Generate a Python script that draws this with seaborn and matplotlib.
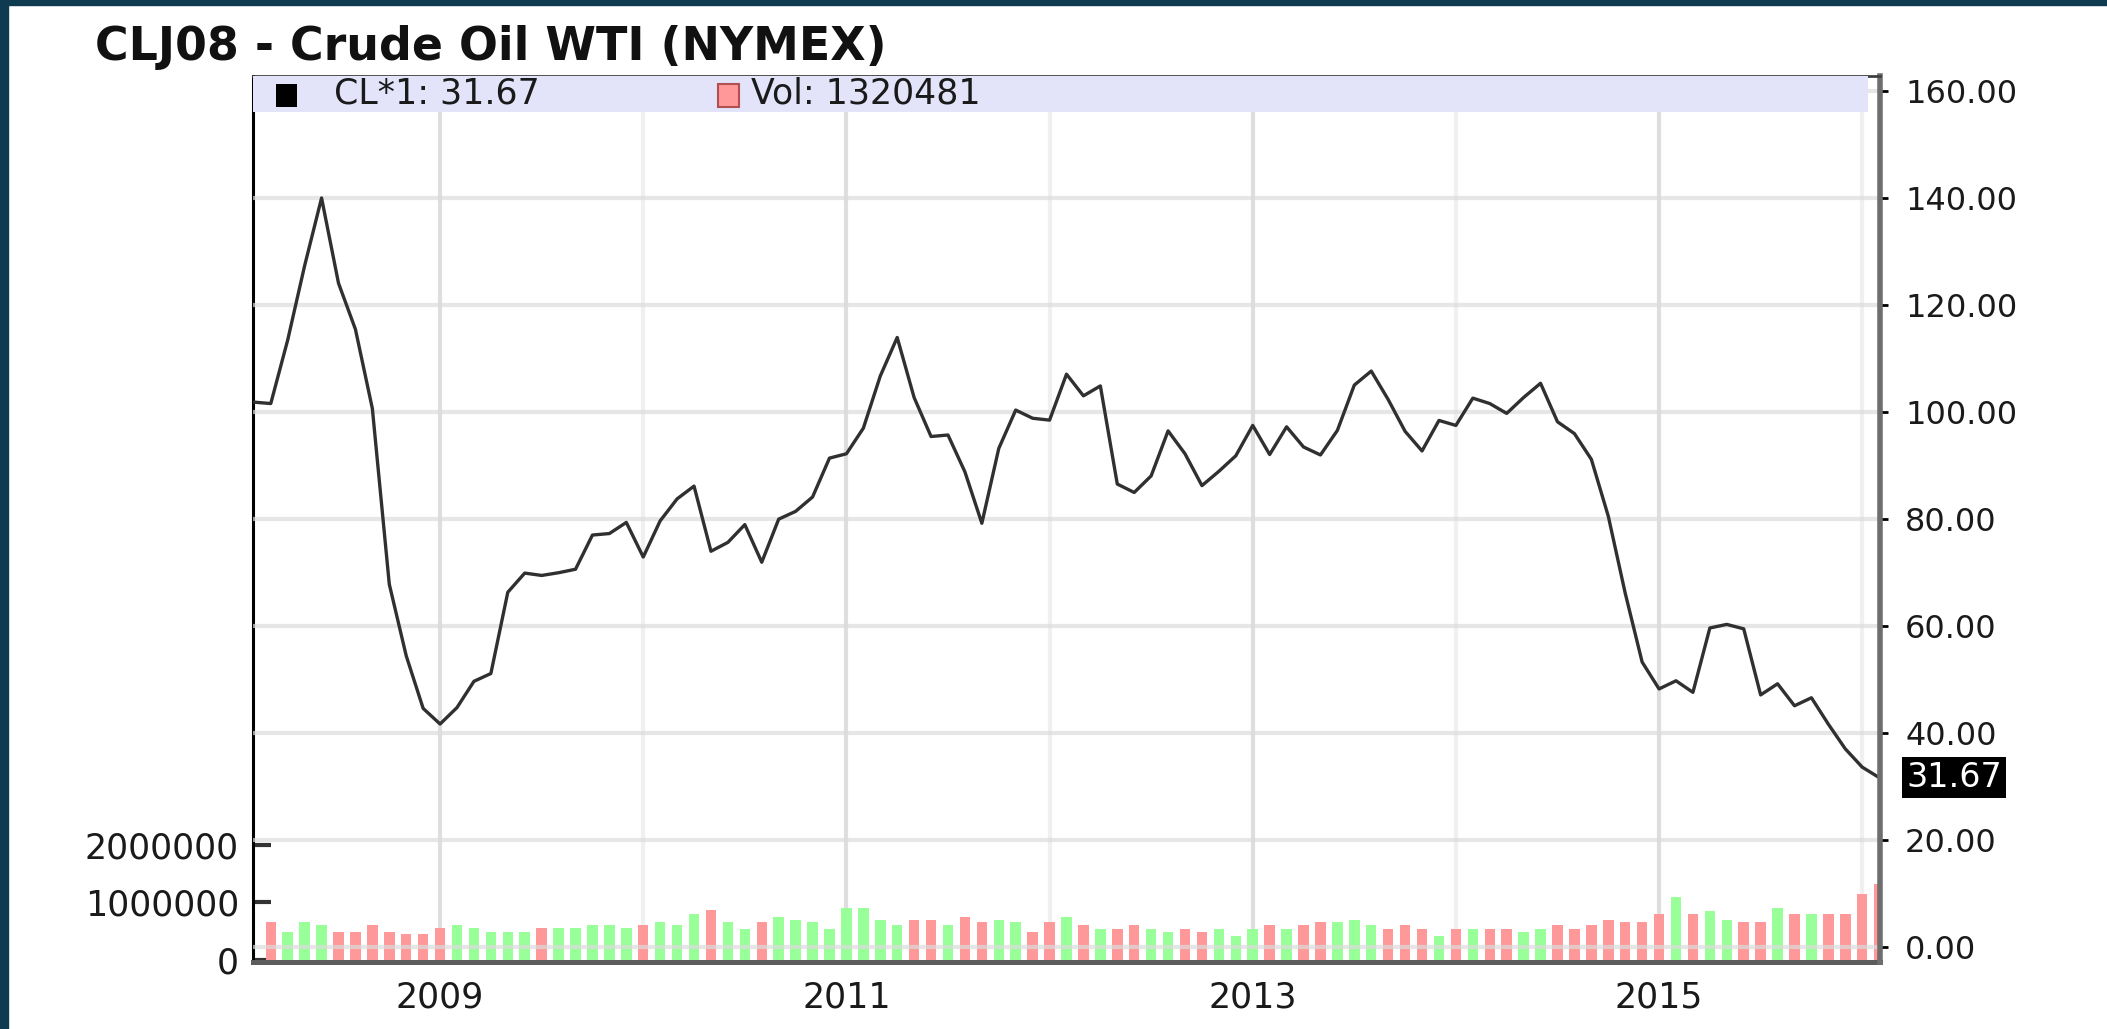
import matplotlib
matplotlib.use('Agg')
import matplotlib.pyplot as plt
from matplotlib.patches import Rectangle
import numpy as np
import pandas as pd
import seaborn as sns


TITLE = "CLJ08 - Crude Oil WTI (NYMEX)"
START_MONTH = "2008-02-01"

# monthly close, CL*1, Feb 2008 -> Feb 2016
price_2008 = [101.84, 101.58, 113.46, 127.35, 140.00, 124.08, 115.46, 100.64, 67.81, 54.43, 44.60]
price_2009 = [41.68, 44.76, 49.66, 51.12, 66.31, 69.89, 69.45, 69.96, 70.61, 77.00, 77.28, 79.36]
price_2010 = [72.89, 79.66, 83.76, 86.15, 73.97, 75.63, 78.95, 71.92, 79.97, 81.43, 84.11, 91.38]
price_2011 = [92.19, 96.97, 106.72, 113.93, 102.70, 95.42, 95.70, 88.81, 79.20, 93.19, 100.36, 98.83]
price_2012 = [98.48, 107.07, 103.02, 104.87, 86.53, 84.96, 88.06, 96.47, 92.19, 86.24, 88.91, 91.82]
price_2013 = [97.49, 92.05, 97.23, 93.46, 91.97, 96.56, 105.03, 107.65, 102.33, 96.38, 92.72, 98.42]
price_2014 = [97.49, 102.59, 101.58, 99.74, 102.71, 105.37, 98.17, 95.96, 91.16, 80.54, 66.15, 53.27]
price_2015 = [48.24, 49.76, 47.60, 59.63, 60.30, 59.47, 47.12, 49.20, 45.09, 46.59, 41.65, 37.04]
price_2016 = [33.62, 31.67]

# monthly volume (contracts), Mar 2008 -> Feb 2016
vol_2008 = [660000, 490000, 660000, 600000, 490000, 490000, 600000, 490000, 440000, 440000]
vol_2009 = [550000, 600000, 550000, 490000, 490000, 490000, 550000, 550000, 550000, 600000, 600000, 550000]
vol_2010 = [600000, 660000, 600000, 800000, 860000, 660000, 540000, 660000, 740000, 690000, 660000, 540000]
vol_2011 = [900000, 900000, 690000, 600000, 690000, 690000, 600000, 740000, 660000, 690000, 660000, 490000]
vol_2012 = [660000, 740000, 600000, 540000, 540000, 600000, 540000, 480000, 540000, 480000, 540000, 420000]
vol_2013 = [540000, 600000, 540000, 600000, 660000, 660000, 690000, 600000, 540000, 600000, 540000, 420000]
vol_2014 = [540000, 540000, 540000, 540000, 480000, 540000, 600000, 540000, 600000, 690000, 660000, 660000]
vol_2015 = [800000, 1090000, 800000, 850000, 690000, 660000, 660000, 900000, 800000, 800000, 800000, 800000]
vol_2016 = [1150000, 1320481]

price_ticks = [0, 20, 40, 60, 80, 100, 120, 140, 160]
vol_ticks = [0, 1000000, 2000000]

UP_COLOR = '#99ff99'
DOWN_COLOR = '#ff9999'
BORDER = '#0e3b4f'


def build_data():
	prices = (price_2008 + price_2009 + price_2010 + price_2011 + price_2012
		+ price_2013 + price_2014 + price_2015 + price_2016)
	vols = (vol_2008 + vol_2009 + vol_2010 + vol_2011 + vol_2012
		+ vol_2013 + vol_2014 + vol_2015 + vol_2016)

	months = pd.date_range(START_MONTH, periods=len(prices), freq='MS')
	price_df = pd.DataFrame({"idx": np.arange(len(prices)), "date": months, "close": prices})

	# volume starts one month later, coloured by the month's price move
	vol_df = price_df.iloc[1:].copy()
	vol_df["volume"] = vols
	vol_df["dir"] = np.where(np.diff(prices) >= 0, "up", "down")
	return price_df, vol_df


def draw(price_df, vol_df):
	sns.set_style("white")
	plt.rcParams['font.family'] = ['DejaVu Sans']

	W, H = 2107, 1029
	fig = plt.figure(figsize=(W / 100, H / 100), dpi=100)
	fig.patch.set_facecolor('white')

	# dark frame on the left and top edges
	fig.patches.append(Rectangle((0, 0), 8 / W, 1, transform=fig.transFigure, color=BORDER, zorder=10))
	fig.patches.append(Rectangle((0, 1 - 5 / H), 1, 5 / H, transform=fig.transFigure, color=BORDER, zorder=10))

	left, right, top, bottom = 253, 1880, 76, 962
	ax_vol = fig.add_axes([left / W, 1 - bottom / H, (right - left) / W, (bottom - top) / H])

	sns.barplot(data=vol_df, x="idx", y="volume", hue="dir",
		palette={"up": UP_COLOR, "down": DOWN_COLOR}, native_scale=True,
		width=0.62, dodge=False, saturation=1, linewidth=0, legend=False, ax=ax_vol)

	ax_price = ax_vol.twinx()
	sns.lineplot(data=price_df, x="idx", y="close", color='#303030', linewidth=2.4, ax=ax_price)

	n = len(price_df)
	ax_vol.set_xlim(-0.05, n - 1 + 0.05)
	ax_vol.set_ylim(-40000, 15.41e6)
	ax_price.set_ylim(-2.8, 162.8)

	# year ticks: januaries, labels on odd years
	jan = price_df[price_df["date"].dt.month == 1]
	major = jan[jan["date"].dt.year % 2 == 1]
	minor = jan[jan["date"].dt.year % 2 == 0]
	ax_vol.set_xticks(major["idx"], labels=major["date"].dt.year.astype(str))
	ax_vol.set_xticks(minor["idx"], minor=True)
	ax_vol.tick_params(axis='x', which='major', direction='out', length=5, width=3,
		color='black', labelsize=25, labelcolor='#1a1a1a', pad=8)
	ax_vol.tick_params(axis='x', which='minor', length=0)
	ax_vol.grid(False)
	ax_vol.xaxis.grid(True, which='major', color='#dedede', linewidth=3)
	ax_vol.xaxis.grid(True, which='minor', color='#f0f0f0', linewidth=3)
	ax_vol.set_axisbelow(True)

	ax_vol.set_yticks(vol_ticks, labels=[str(v) for v in vol_ticks])
	ax_vol.tick_params(axis='y', direction='in', length=13, width=3, color='#333333',
		labelsize=25, labelcolor='#1a1a1a', pad=10, left=True)

	ax_price.set_yticks(price_ticks, labels=[f"{p:.2f}" for p in price_ticks])
	ax_price.tick_params(axis='y', direction='out', length=6, width=2, color='black',
		labelsize=23, labelcolor='#1a1a1a', pad=12, right=True)
	ax_price.grid(False)
	ax_price.yaxis.grid(True, color='#dcdcdc', linewidth=3, alpha=0.7)

	ax_vol.set_xlabel("")
	ax_vol.set_ylabel("")
	ax_price.set_xlabel("")
	ax_price.set_ylabel("")

	for side in ["top", "right"]:
		ax_vol.spines[side].set_visible(False)
	ax_vol.spines["left"].set_color('black')
	ax_vol.spines["left"].set_linewidth(2.2)
	ax_vol.spines["bottom"].set_color('#5c5c5c')
	ax_vol.spines["bottom"].set_linewidth(3.6)
	for side in ["left", "bottom"]:
		ax_price.spines[side].set_visible(False)
	ax_price.spines["right"].set_color('#6e6e6e')
	ax_price.spines["right"].set_linewidth(4)
	ax_price.spines["top"].set_color('#404040')
	ax_price.spines["top"].set_linewidth(2)

	# legend band
	ax_price.add_patch(Rectangle((0, 0.9594), 0.9926, 0.0406, transform=ax_price.transAxes,
		facecolor='#e3e3fa', edgecolor='none', zorder=3))
	ax_price.add_patch(Rectangle((0.0141, 0.965), 0.0128, 0.0265, transform=ax_price.transAxes,
		facecolor='black', edgecolor='none', zorder=4))
	ax_price.add_patch(Rectangle((0.286, 0.965), 0.0128, 0.0265, transform=ax_price.transAxes,
		facecolor=DOWN_COLOR, edgecolor='#b05050', linewidth=1.5, zorder=4))

	last_price = price_df["close"].iloc[-1]
	last_vol = vol_df["volume"].iloc[-1]
	ax_price.text(0.0498, 0.9797, f"CL*1: {last_price:.2f}", transform=ax_price.transAxes,
		fontsize=25, color='#1a1a1a', va='center', ha='left', zorder=5)
	ax_price.text(0.306, 0.9797, f"Vol: {last_vol}", transform=ax_price.transAxes,
		fontsize=25, color='#1a1a1a', va='center', ha='left', zorder=5)

	# last price tag on the right axis
	ax_price.annotate(f"{last_price:.2f}", xy=(1, last_price), xycoords=('axes fraction', 'data'),
		xytext=(19, 0), textcoords='offset points', va='center', ha='left',
		color='white', fontsize=24, annotation_clip=False,
		bbox=dict(boxstyle='square,pad=0.12', facecolor='black', edgecolor='none'))

	fig.text(95 / W, 1 - 60 / H, TITLE, fontsize=33, fontweight='bold', color='#111111',
		ha='left', va='baseline')

	fig.savefig('out.png', dpi=100)
	print("Created out.png")


def main():
	price_df, vol_df = build_data()
	draw(price_df, vol_df)


if __name__ == "__main__":
	main()
